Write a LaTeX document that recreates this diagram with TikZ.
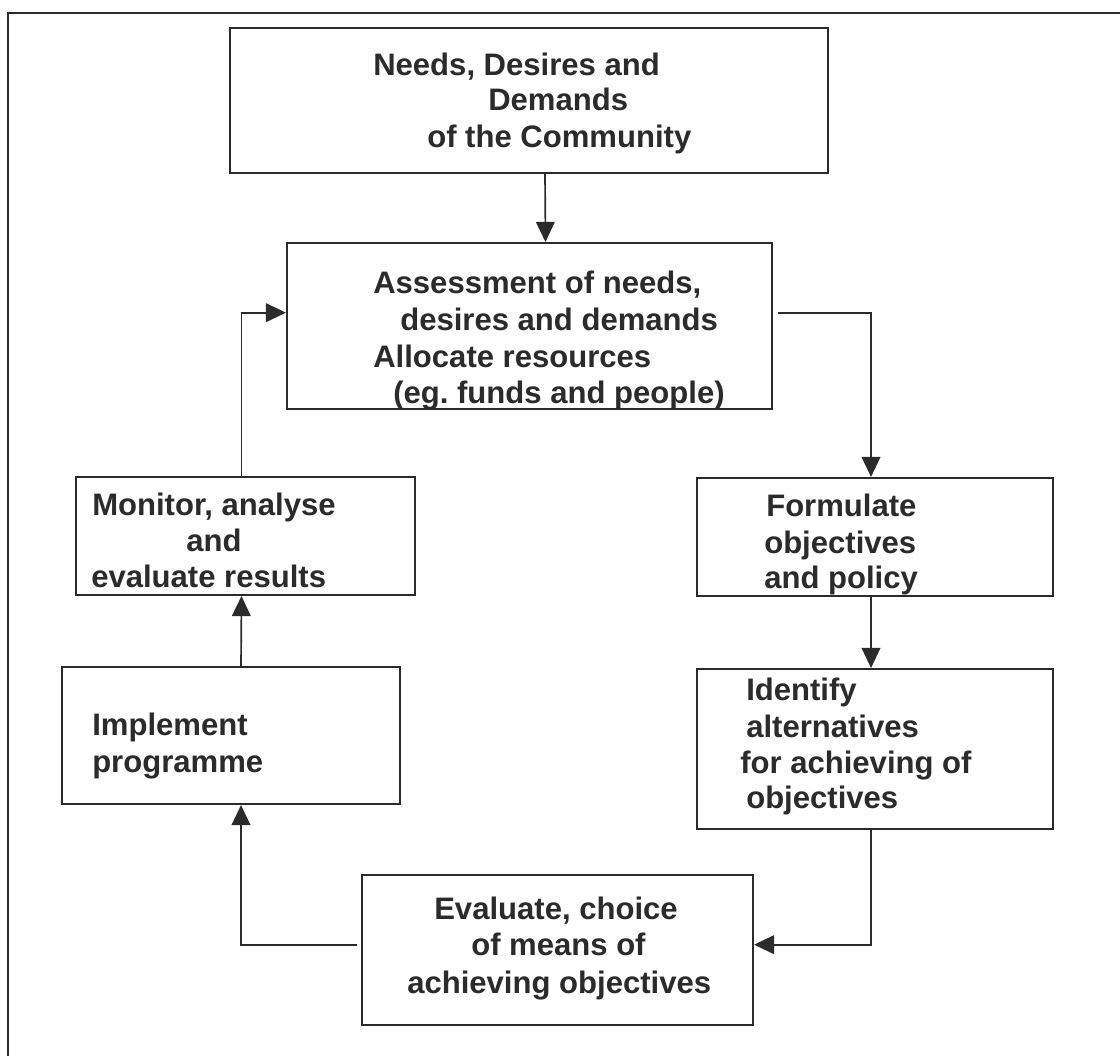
\documentclass[tikz,border=0pt]{standalone}
\usepackage{fontspec}
\setmainfont{Liberation Sans}
\usetikzlibrary{arrows.meta,fit}
\frenchspacing
\definecolor{ink}{HTML}{2B2B2B}
\tikzset{
  box/.style={draw=ink, line width=1.6pt, inner sep=0pt, rectangle},
  txt/.style={anchor=base west, inner sep=0pt, text=ink, font=\fontsize{23.3pt}{28pt}\selectfont\bfseries},
  arr/.style={draw=ink, line width=1.25pt, -{Triangle[length=15pt,width=14pt]}},
  frame/.style={draw=ink, line width=1.5pt}
}
\begin{document}
\begin{tikzpicture}[x=0.75pt,y=-0.75pt]
\useasboundingbox (0,0) rectangle (1120,1056);
\fill[white] (0,0) rectangle (1120,1056);
% outer frame (top and left edges only)
\coordinate (fTL) at (8,13);
\coordinate (fTR) at (1120,13);
\coordinate (fBL) at (8,1056);
\draw[frame] (fTR) -- (fTL) -- (fBL);

% boxes
\node[box, fit={(230,28) (828,173)}] (b1) {};
\node[box, fit={(287,243) (772,409)}] (b2) {};
\node[box, fit={(697,478) (1053,596)}] (b3) {};
\node[box, fit={(697,669) (1053,829)}] (b4) {};
\node[box, fit={(362,875) (753,1025)}] (b5) {};
\node[box, fit={(62,667) (400,804)}] (b6) {};
\node[box, fit={(76,477) (415,595)}] (b7) {};

% texts
\node[txt] (t1a) at (373,75) {Needs, Desires and};
\node[txt] (t1b) at (488,110) {Demands};
\node[txt] (t1c) at (427,147) {of the Community};

\node[txt] (t2a) at (373,293) {Assessment of needs,};
\node[txt] (t2b) at (400,330) {desires and demands};
\node[txt] (t2c) at (373,367) {Allocate resources};
\node[txt] (t2d) at (393,403) {(eg. funds and people)};

\node[txt] (t3a) at (766,516) {Formulate};
\node[txt] (t3b) at (764,553) {objectives};
\node[txt] (t3c) at (764,588) {and policy};

\node[txt] (t4a) at (746,700) {Identify};
\node[txt] (t4b) at (746,737) {alternatives};
\node[txt] (t4c) at (740,773) {for achieving of};
\node[txt] (t4d) at (746,808) {objectives};

\node[txt] (t5a) at (434,919) {Evaluate, choice};
\node[txt] (t5b) at (471,955) {of means of};
\node[txt] (t5c) at (407,993) {achieving objectives};

\node[txt] (t6a) at (92,735) {Implement};
\node[txt] (t6b) at (92,772) {programme};

\node[txt] (t7a) at (92,515) {Monitor, analyse};
\node[txt] (t7b) at (186,551) {and};
\node[txt] (t7c) at (91,587) {evaluate results};

% connectors
\draw[arr] ([xshift=12pt]b1.south) -- ([xshift=12pt]b2.north);
\draw[arr] ([xshift=3.5pt,yshift=10pt]b2.east) -| ([xshift=-3pt]b3.north);
\draw[arr] ([xshift=-3pt]b3.south) -- ([xshift=-3pt]b4.north);
\draw[arr] ([xshift=-3pt]b4.south) |- ([yshift=4pt]b5.east);
\draw[arr] ([xshift=-3pt,yshift=4pt]b5.west) -| ([xshift=7.5pt]b6.south);
\draw[arr] ([xshift=7.5pt]b6.north) -- ([xshift=-3pt]b7.south);
\draw[arr] ([xshift=-3pt]b7.north) |- ([yshift=10pt]b2.west);
\end{tikzpicture}
\end{document}
